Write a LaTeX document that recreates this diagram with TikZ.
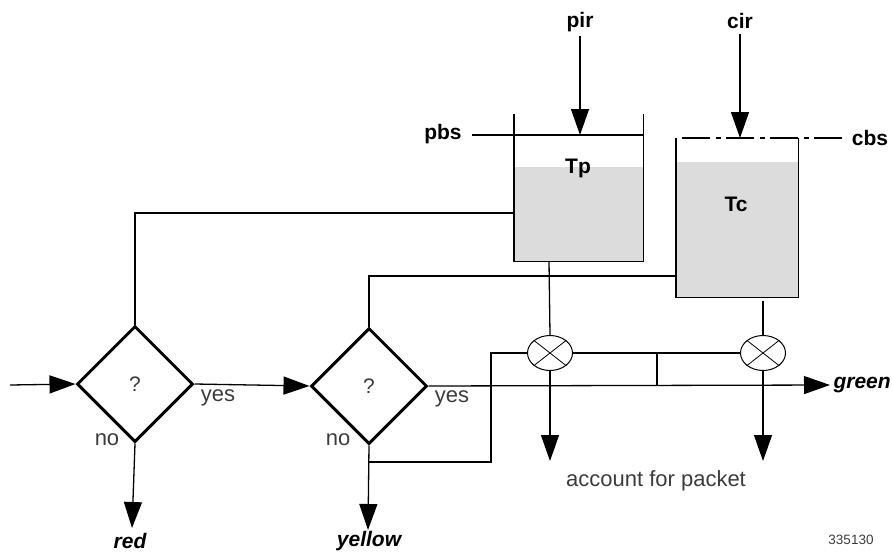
\documentclass[tikz,border=0pt]{standalone}
\usepackage{fontspec}
\setmainfont{Liberation Sans}
\usetikzlibrary{arrows.meta,shapes.geometric,positioning}
\definecolor{tankgray}{RGB}{220, 220, 220}
\definecolor{labelgray}{RGB}{60, 60, 60}
\tikzset{
    wire/.style={line width=1.3pt, black},
    flow/.style={wire, -{Triangle[length=26pt, width=18pt]}},
    decision/.style={diamond, draw, line width=3pt, inner sep=0pt, minimum width=116pt, minimum height=116pt, font=\fontsize{21}{24}\selectfont, text=labelgray},
    meter/.style={ellipse, draw, line width=1pt, fill=white, inner sep=0pt, minimum width=45pt, minimum height=35pt},
    tank/.style={rectangle, inner sep=0pt, anchor=north west},
    biglabel/.style={font=\fontsize{21}{24}\selectfont\bfseries},
    flowlabel/.style={font=\fontsize{21}{24}\selectfont\bfseries\itshape},
    plainlabel/.style={font=\fontsize{22}{24}\selectfont, text=labelgray}
}
\begin{document}
\begin{tikzpicture}[x=1pt, y=-1pt]
    \useasboundingbox (0,0) rectangle (892,552);

    % Tanks
    \fill[tankgray] (514,167) rectangle (643,261);
    \fill[tankgray] (676,162) rectangle (798,297);
    \node[tank, minimum width=129pt, minimum height=147pt] (tankp) at (514,114) {};
    \node[tank, minimum width=122pt, minimum height=159pt] (tankc) at (676,138) {};
    \draw[wire] (tankp.north west) -- (tankp.south west) -- (tankp.south east) -- (tankp.north east);
    \draw[wire] (tankc.north west) -- (tankc.south west) -- (tankc.south east) -- (tankc.north east);
    \node[biglabel] (tp) at (578,168) {Tp};
    \node[biglabel] (tc) at (736,204) {Tc};

    % Rates and bucket sizes
    \node[biglabel] (pir) at (580,22) {pir};
    \node[biglabel] (cir) at (740,21) {cir};
    \node[biglabel] (pbs) at (443,134) {pbs};
    \node[biglabel] (cbs) at (870,138) {cbs};
    \coordinate (pbsend) at (643,135);
    \coordinate (pbsstart) at (472,135);
    \coordinate (cbsstart) at (682,138);
    \coordinate (cbsend) at (842,138);
    \coordinate (pirtip) at (580,135);
    \coordinate (cirtip) at (740,138);
    \draw[wire] (pbsstart) -- (pbsend);
    \draw[wire, dash pattern=on 28pt off 6pt on 5pt off 5pt] (cbsstart) -- (cbsend);
    \draw[flow] (pir.south |- 0,36) -- (pirtip);
    \draw[flow] (cir.south |- 0,34) -- (cirtip);

    % Decisions
    \node[decision] (first) at (135,384) {?};
    \node[decision] (second) at (369,386) {?};
    \coordinate (entry) at (10,385);
    \coordinate (redtip) at (132,528);
    \coordinate (yellowtip) at (368,530);
    \coordinate (greentip) at (830,385);
    \draw[flow] (entry) -- (first.west);
    \draw[flow] (first.east) -- (second.west);
    \draw[flow] (first.south) -- (redtip);
    \draw[flow] (second.south) -- (yellowtip);
    \draw[flow] (second.east) -- (greentip);

    % Meters
    \node[meter] (meterp) at (550,353) {};
    \node[meter] (meterc) at (763,353) {};
    \draw[line width=0.8pt] (meterp.north west) -- (meterp.south east);
    \draw[line width=0.8pt] (meterp.north east) -- (meterp.south west);
    \draw[line width=0.8pt] (meterc.north west) -- (meterc.south east);
    \draw[line width=0.8pt] (meterc.north east) -- (meterc.south west);
    \coordinate (tpout) at (549,261);
    \coordinate (tcout) at (763,301);
    \coordinate (acctp) at (550,461);
    \coordinate (acctc) at (763,461);
    \draw[wire] (tpout) -- (meterp.north);
    \draw[wire] (tcout) -- (meterc.north);
    \draw[flow] (meterp.south) -- (acctp);
    \draw[flow] (meterc.south) -- (acctc);
    \draw[wire] (meterp.east) -- (meterc.west);
    \coordinate (tie) at (657,353);
    \coordinate (tiefoot) at (657,385);
    \draw[wire] (tie) -- (tiefoot);

    % Feedback lines
    \coordinate (tpside) at (514,213);
    \coordinate (tcside) at (676,276);
    \coordinate (nobranch) at (368,462);
    \draw[wire] (tpside) -| (first.north);
    \draw[wire] (tcside) -| (second.north);
    \draw[wire] (nobranch) -| (491,353) -- (meterp.west);

    % Labels
    \node[plainlabel] (yesa) at (218,398) {yes};
    \node[plainlabel] (yesb) at (452,399) {yes};
    \node[plainlabel] (noa) at (107,440) {no};
    \node[plainlabel] (nob) at (338,440) {no};
    \node[flowlabel] (red) at (130,541) {red};
    \node[flowlabel] (yellow) at (369,541) {yellow};
    \node[flowlabel, anchor=west] (green) at (830,385) {green};
    \node[plainlabel] (account) at (656,481) {account for packet};
    \node[font=\fontsize{13.5}{15}\selectfont, text=labelgray] (figid) at (851,540) {335130};
\end{tikzpicture}
\end{document}
